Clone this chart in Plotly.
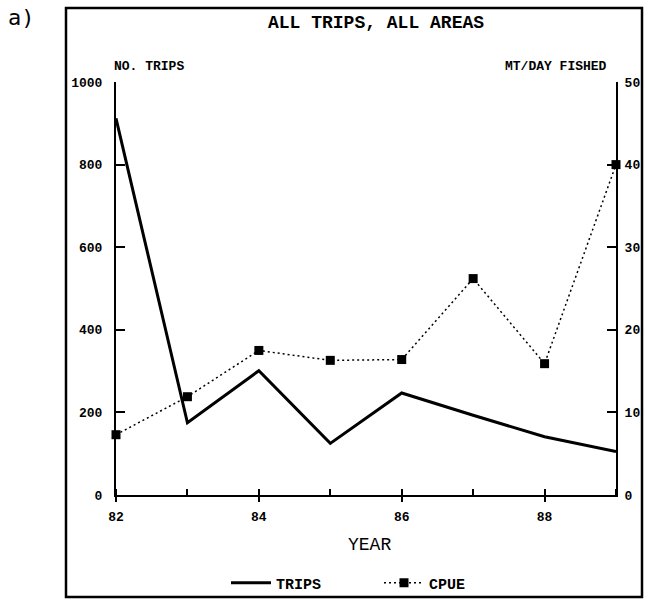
import plotly.graph_objects as go

years = [82, 83, 84, 85, 86, 87, 88, 89]
trips = [912, 175, 301, 125, 247, 193, 141, 105]
cpue = [7.3, 11.9, 17.5, 16.3, 16.4, 26.2, 15.9, 40.0]
x_tick_vals = [82, 84, 86, 88]
x_tick_text = ["82", "84", "86", "88"]

FONT = "Liberation Mono"
W, H = 645, 600
L, R, T, B = 116, 29, 82, 105
PW, PH = W - L - R, H - T - B


def px(x):
    return (x - L) / PW


def py(y):
    return (H - B - y) / PH


fig = go.Figure()
fig.add_trace(go.Scatter(
    x=years, y=trips, name="TRIPS", mode="lines",
    line=dict(color="black", width=3), cliponaxis=False,
))
fig.add_trace(go.Scatter(
    x=years, y=cpue, name="CPUE", mode="lines+markers", yaxis="y2",
    line=dict(color="black", width=1.5, dash="2px,3px"),
    marker=dict(symbol="square", size=9, color="black"), cliponaxis=False,
))
# overlay axis for crossing tick marks
fig.add_trace(go.Scatter(x=[82, 89], y=[0, 0], xaxis="x2", mode="none",
                         showlegend=False, hoverinfo="skip"))

tickfont = dict(family=FONT, size=13, color="black", weight="bold")
fig.update_layout(
    width=W, height=H,
    margin=dict(l=L, r=R, t=T, b=B, autoexpand=False),
    paper_bgcolor="white", plot_bgcolor="white",
    font=dict(family=FONT, color="black"),
    showlegend=True,
    legend=dict(orientation="h", x=px(226), xanchor="left", y=py(583), yanchor="middle",
                font=dict(family=FONT, size=15, color="black", weight="bold"),
                entrywidth=98, entrywidthmode="pixels", itemwidth=40,
                bgcolor="rgba(0,0,0,0)"),
    xaxis=dict(range=[82, 89], tickvals=x_tick_vals, ticktext=x_tick_text,
               ticks="outside", ticklen=5, tickwidth=1.5, tickcolor="black",
               showline=True, linecolor="black", linewidth=2, showgrid=False,
               zeroline=False, tickfont=tickfont, ticklabelstandoff=3, automargin=False,
               minor=dict(ticks="inside", dtick=1, tick0=82, ticklen=6,
                          tickwidth=1.5, tickcolor="black", showgrid=False)),
    xaxis2=dict(range=[82, 89], overlaying="x", side="bottom", anchor="y",
                tickvals=x_tick_vals, ticks="inside", ticklen=6, tickwidth=1.5,
                tickcolor="black", showticklabels=False, showline=False,
                showgrid=False, zeroline=False, automargin=False),
    yaxis=dict(range=[0, 1000], dtick=200, ticks="inside", ticklen=9, tickwidth=1.5,
               tickcolor="black", showline=True, linecolor="black", linewidth=2,
               showgrid=False, zeroline=False, tickfont=tickfont,
               ticklabelstandoff=9, automargin=False),
    yaxis2=dict(range=[0, 50], dtick=10, overlaying="y", side="right", anchor="x",
                ticks="inside", ticklen=9, tickwidth=1.5, tickcolor="black",
                showline=True, linecolor="black", linewidth=2, showgrid=False,
                zeroline=False, tickfont=tickfont, ticklabelstandoff=4, automargin=False),
)

ann = [
    dict(text="a)", x=px(6), y=py(18), xanchor="left", yanchor="middle",
         font=dict(family="DejaVu Sans Mono", size=22, color="black")),
    dict(text="<b>ALL TRIPS, ALL AREAS</b>", x=px(376), y=py(23), xanchor="center",
         yanchor="middle", font=dict(family=FONT, size=18, color="black")),
    dict(text="<b>NO. TRIPS</b>", x=px(112), y=py(66), xanchor="left", yanchor="middle",
         font=dict(family=FONT, size=13, color="black")),
    dict(text="<b>MT/DAY FISHED</b>", x=px(609), y=py(66), xanchor="right",
         yanchor="middle", font=dict(family=FONT, size=13, color="black")),
    dict(text="YEAR", x=px(369), y=py(545), xanchor="center", yanchor="middle",
         font=dict(family=FONT, size=18, color="black")),
]
for a in ann:
    a.update(xref="paper", yref="paper", showarrow=False)
fig.update_layout(annotations=ann)

fig.add_shape(type="rect", xref="paper", yref="paper",
              x0=px(66), x1=px(642), y0=py(597), y1=py(8),
              line=dict(color="black", width=2.5), fillcolor="rgba(0,0,0,0)")

fig.write_html("out.html", config={"displayModeBar": False},
               post_script="document.body.style.margin='0';document.body.style.overflow='hidden';")
